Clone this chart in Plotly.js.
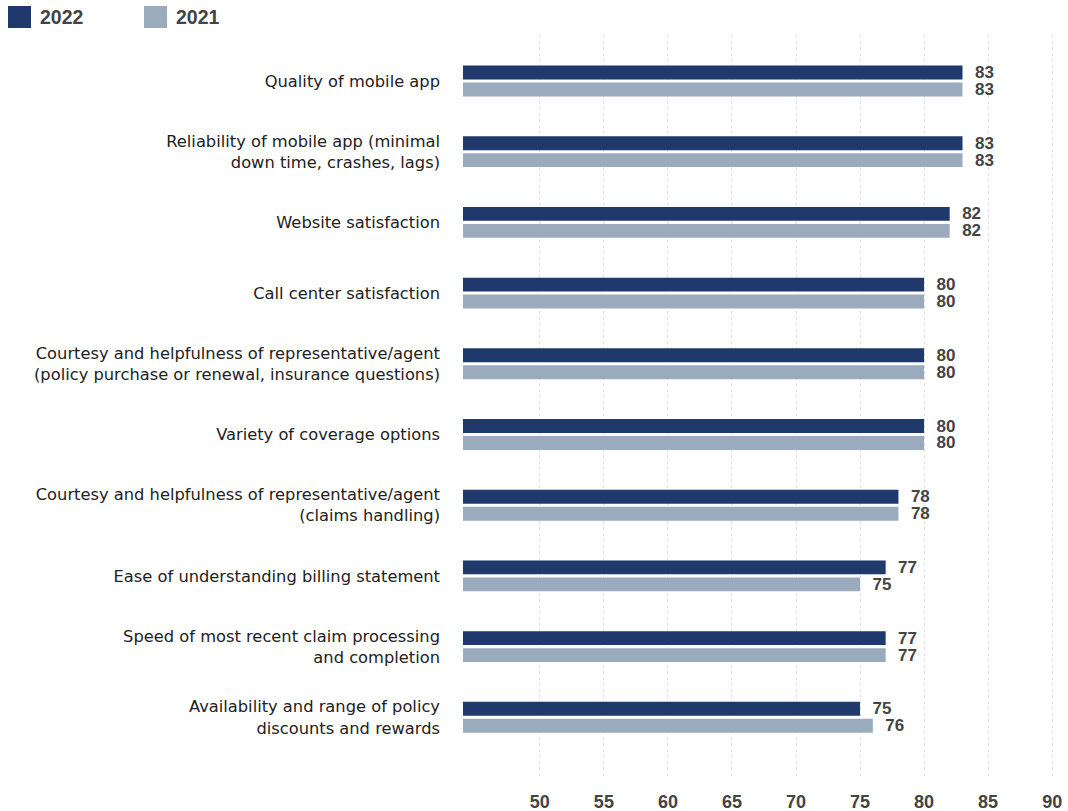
<!DOCTYPE html>
<html>
<head>
<meta charset="utf-8">
<script src="https://cdn.plot.ly/plotly-3.0.1.min.js"></script>
<style>html,body{margin:0;padding:0;background:#fff}#chart{width:1068px;height:811px}</style>
</head>
<body>
<div id="chart"></div>
<script>
const categories = [
  "Quality of mobile app",
  "Reliability of mobile app (minimal<br>down time, crashes, lags)",
  "Website satisfaction",
  "Call center satisfaction",
  "Courtesy and helpfulness of representative/agent<br>(policy purchase or renewal, insurance questions)",
  "Variety of coverage options",
  "Courtesy and helpfulness of representative/agent<br>(claims handling)",
  "Ease of understanding billing statement",
  "Speed of most recent claim processing<br>and completion",
  "Availability and range of policy<br>discounts and rewards"
];
const seriesNames = ["2022", "2021"];
const values2022 = [83, 83, 82, 80, 80, 80, 78, 77, 77, 75];
const values2021 = [83, 83, 82, 80, 80, 80, 78, 75, 77, 76];
const tickValues = [50, 55, 60, 65, 70, 75, 80, 85, 90];

const colors = ["#1f396d", "#9aabbe"];
const numFont = {family: "Liberation Sans Narrow, Arial Narrow, Liberation Sans, sans-serif", size: 17, color: "#444", weight: "bold"};

const traces = [values2022, values2021].map((vals, i) => ({
  type: "bar",
  orientation: "h",
  name: seriesNames[i],
  y: categories,
  x: vals,
  marker: {color: colors[i]},
  text: vals.map(v => "\u00a0\u00a0" + v),
  textposition: "outside",
  constraintext: "none",
  cliponaxis: false,
  textfont: numFont,
  hoverinfo: "x+y",
  showlegend: false
}));

const L = 463, R = 12, T = 35, B = 35, W = 1068, H = 811;
const pw = W - L - R, ph = H - T - B;

const layout = {
  width: W, height: H,
  margin: {l: L, r: R, t: T, b: B},
  paper_bgcolor: "#fff", plot_bgcolor: "#fff",
  barmode: "group",
  bargap: 0.52,
  bargroupgap: 0.18,
  showlegend: false,
  xaxis: {
    range: [44, 90.3],
    tickvals: tickValues,
    ticktext: tickValues.map(String),
    showgrid: true,
    gridcolor: "#e2e2e2",
    griddash: "dot",
    gridwidth: 1,
    zeroline: false,
    showline: false,
    ticks: "",
    ticklabelstandoff: 13,
    tickfont: Object.assign({}, numFont, {size: 18})
  },
  yaxis: {
    type: "category",
    range: [9.83, -0.65],
    showgrid: false,
    zeroline: false,
    showline: false,
    ticks: "",
    ticklabelstandoff: 22,
    tickfont: {family: "DejaVu Sans, sans-serif", size: 16.3, color: "#222"}
  },
  shapes: [],
  annotations: []
};

// custom legend with larger swatches
const legendX = [8, 144];
seriesNames.forEach((n, i) => {
  const x0 = legendX[i];
  layout.shapes.push({
    type: "rect", xref: "paper", yref: "paper",
    x0: (x0 - L) / pw, x1: (x0 + 23 - L) / pw,
    y0: (H - B - 28) / ph, y1: (H - B - 6) / ph,
    fillcolor: colors[i], line: {width: 0}
  });
  layout.annotations.push({
    xref: "paper", yref: "paper", xanchor: "left", yanchor: "middle",
    x: (x0 + 30 - L) / pw, y: (H - B - 17) / ph,
    text: n, showarrow: false,
    font: {family: "Liberation Sans, Arial, sans-serif", size: 19.5, color: "#444", weight: "bold"}
  });
});

Plotly.newPlot("chart", traces, layout, {displayModeBar: false});
</script>
</body>
</html>
